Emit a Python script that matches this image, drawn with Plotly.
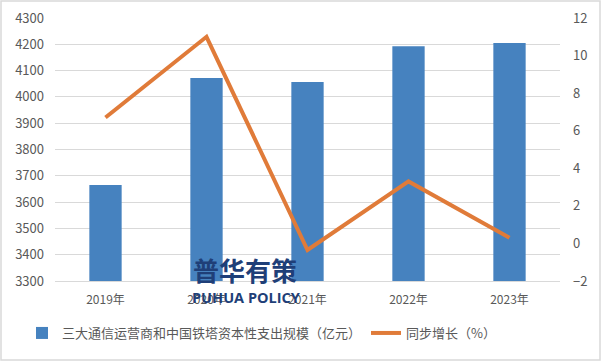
import plotly.graph_objects as go

categories = ["2019年", "2020年", "2021年", "2022年", "2023年"]
capex = [3665, 4072, 4057, 4193, 4205]
growth = [6.7, 11.0, -0.35, 3.3, 0.3]
bar_name = "三大通信运营商和中国铁塔资本性支出规模（亿元）"
line_name = "同步增长（%）"

W, H = 601, 361
L, R, T, B = 55, 41, 18, 80
pw, ph = W - L - R, H - T - B

fig = go.Figure()
fig.add_trace(go.Bar(x=categories, y=capex, name=bar_name, width=0.32,
                     marker=dict(color="#4682BF", line=dict(width=0)), yaxis="y"))
fig.add_trace(go.Scatter(x=categories, y=growth, name=line_name, mode="lines",
                         line=dict(color="#E07B39", width=4), yaxis="y2"))

font_family = "Noto Sans CJK SC, Noto Sans, sans-serif"
fig.update_layout(
    width=W, height=H,
    margin=dict(l=L, r=R, t=T, b=B, autoexpand=False),
    paper_bgcolor="white", plot_bgcolor="white",
    font=dict(family=font_family, color="#595959", size=12),
    xaxis=dict(showgrid=False, showline=True, linecolor="#D9D9D9", ticks="",
               automargin=False, tickfont=dict(size=12, color="#595959"),
               ticklabelstandoff=8),
    yaxis=dict(range=[3300, 4300], dtick=100, showgrid=True, gridcolor="#D9D9D9",
               automargin=False,
               zeroline=False, showline=False, tickfont=dict(size=13, color="#595959"),
               ticklabelstandoff=10),
    yaxis2=dict(range=[-2, 12], dtick=2, overlaying="y", side="right", showgrid=False,
                automargin=False,
                zeroline=False, showline=False, tickfont=dict(size=13, color="#595959"),
                ticklabelstandoff=12),
    legend=dict(orientation="h", x=22 / W, xanchor="left", xref="container",
                y=(H - 333) / H, yref="container",
                yanchor="middle", font=dict(size=13, color="#595959"),
                itemwidth=30, tracegroupgap=0),
    showlegend=True,
)

# chart border
fig.add_shape(type="rect", xref="paper", yref="paper",
              x0=(-L + 1) / pw, x1=(pw + R - 1) / pw,
              y0=(-B + 1) / ph, y1=(ph + T - 1) / ph,
              line=dict(color="#D9D9D9", width=1.5), fillcolor="rgba(0,0,0,0)", layer="below")

# watermark
fig.add_annotation(text="<b>普华有策</b>", xref="paper", yref="paper",
                   x=(245 - L) / pw, y=(H - B - 269) / ph,
                   showarrow=False, font=dict(size=26, color="#1F3F78", family=font_family),
                   xanchor="center", yanchor="middle")
fig.add_annotation(text="<b>PUHUA POLICY</b>", xref="paper", yref="paper",
                   x=(246 - L) / pw, y=(H - B - 297) / ph,
                   showarrow=False, font=dict(size=14.5, color="#1F3F78", family="Open Sans, sans-serif"),
                   xanchor="center", yanchor="middle")

fig.write_html("out.html", config={"displayModeBar": False},
               post_script="document.body.style.margin='0';document.body.style.overflow='hidden';")
